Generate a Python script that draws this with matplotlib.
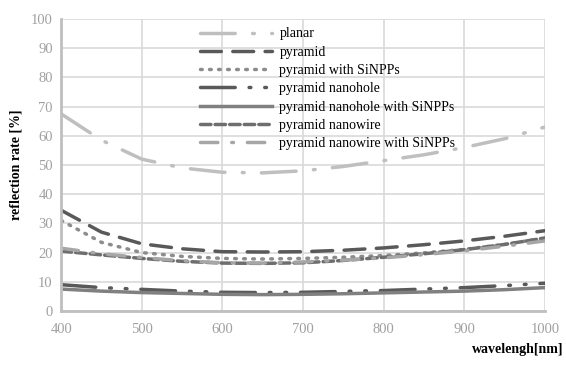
import matplotlib.pyplot as plt
import numpy as np

wavelength = [400, 450, 500, 550, 600, 650, 700, 750, 800, 850, 900, 950, 1000]
planar = [67.5, 58.5, 52.0, 49.0, 47.5, 47.3, 48.0, 49.5, 51.5, 53.5, 56.0, 59.0, 63.0]
pyramid = [34.5, 27.0, 23.0, 21.3, 20.3, 20.2, 20.3, 20.8, 21.6, 22.7, 24.0, 25.6, 27.5]
pyramid_np = [31.0, 23.5, 20.0, 18.7, 18.0, 17.8, 18.0, 18.4, 19.0, 19.9, 21.1, 22.8, 25.0]
nanohole = [9.0, 8.0, 7.4, 6.8, 6.4, 6.3, 6.4, 6.7, 7.0, 7.5, 8.0, 8.7, 9.5]
nanohole_np = [7.5, 6.8, 6.3, 6.0, 5.7, 5.6, 5.7, 5.9, 6.2, 6.5, 6.8, 7.3, 8.0]
nanowire = [20.5, 19.2, 18.0, 17.0, 16.4, 16.3, 16.5, 17.3, 18.4, 19.6, 21.0, 22.8, 25.0]
nanowire_np = [21.5, 19.6, 18.3, 17.2, 16.5, 16.4, 16.8, 17.4, 18.2, 19.3, 20.6, 22.2, 24.0]

labels = ["planar", "pyramid", "pyramid with SiNPPs", "pyramid nanohole",
          "pyramid nanohole with SiNPPs", "pyramid nanowire", "pyramid nanowire with SiNPPs"]
series = [planar, pyramid, pyramid_np, nanohole, nanohole_np, nanowire, nanowire_np]
colors = ["#bfbfbf", "#595959", "#8c8c8c", "#595959", "#808080", "#6e6e6e", "#a6a6a6"]
styles = [(0, (10, 5, 0.5, 5)), (0, (6, 3.3)), (0, (0.5, 2.1)), (0, (10, 4, 0.5, 4, 0.5, 4)),
          "-", (0, (3, 1.2)), (0, (5, 4, 0.5, 4))]

plt.rcParams['font.family'] = ['Liberation Serif', 'DejaVu Serif']

fig = plt.figure(figsize=(5.66, 3.65), dpi=100)
ax = fig.add_axes([0.108, 0.148, 0.855, 0.8])

x = np.array(wavelength)
for ys, lab, c, ls in zip(series, labels, colors, styles):
    ax.plot(x, ys, color=c, linestyle=ls, linewidth=2.5, label=lab,
            dash_capstyle='round')

ax.set_xlim(400, 1000)
ax.set_ylim(0, 100)
ax.set_xticks(range(400, 1001, 100))
ax.set_yticks(range(0, 101, 10))
ax.grid(True, color="#d9d9d9", linewidth=1.2)
ax.set_axisbelow(True)
for s in ["top", "right"]:
    ax.spines[s].set_visible(False)
for s in ["left", "bottom"]:
    ax.spines[s].set_color("#bfbfbf")
    ax.spines[s].set_linewidth(2)
ax.tick_params(length=0, colors="#a0a0a0", labelsize=10.5, pad=6)
ax.tick_params(axis='x', pad=9)

ax.set_ylabel("reflection rate [%]", fontweight="bold", fontsize=10, labelpad=6)
fig.text(0.995, 0.025, "wavelengh[nm]", ha="right", va="bottom",
         fontweight="bold", fontsize=10)

ax.legend(loc="upper left", bbox_to_anchor=(0.276, 0.99), frameon=False,
          handlelength=5.2, fontsize=10, labelspacing=0.38, handletextpad=0.5,
          borderaxespad=0)

fig.savefig("out.png", dpi=100)
